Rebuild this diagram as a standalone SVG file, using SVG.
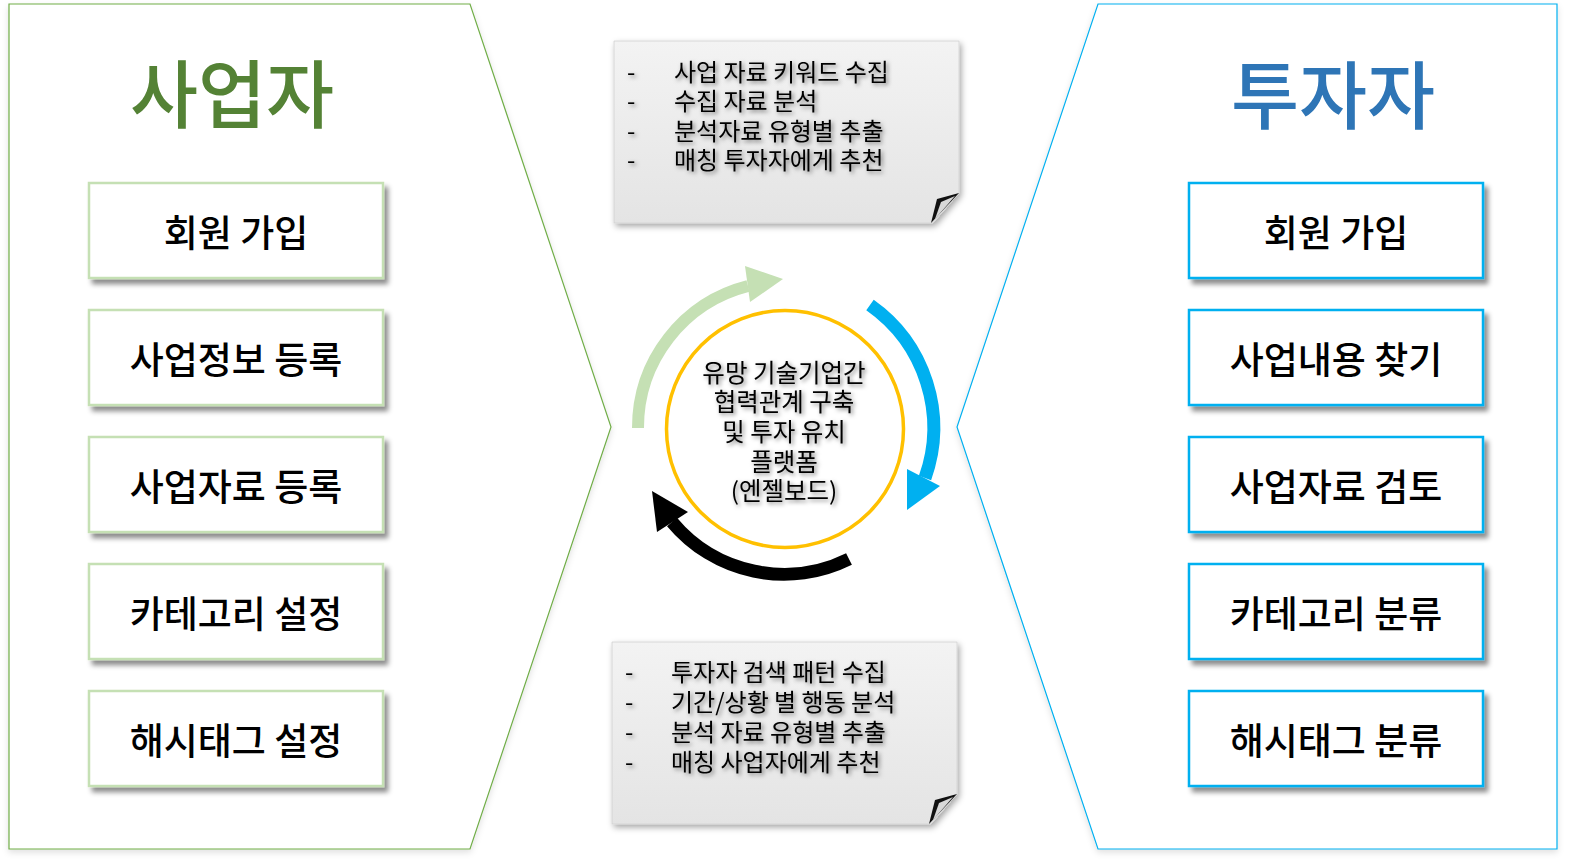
<svg xmlns="http://www.w3.org/2000/svg" width="1572" height="867" viewBox="0 0 1572 867">
<defs>
<filter id="softsh" x="-5%" y="-5%" width="110%" height="110%">
<feDropShadow dx="0" dy="3" stdDeviation="3" flood-color="#000" flood-opacity="0.12"/>
</filter>
<filter id="boxsh" x="-10%" y="-10%" width="125%" height="135%">
<feDropShadow dx="4" dy="5" stdDeviation="2.5" flood-color="#000" flood-opacity="0.45"/>
</filter>
<filter id="notesh" x="-10%" y="-10%" width="125%" height="130%">
<feDropShadow dx="2" dy="3" stdDeviation="3" flood-color="#000" flood-opacity="0.35"/>
</filter>
<filter id="txtsh" x="-10%" y="-30%" width="125%" height="170%">
<feDropShadow dx="2" dy="2" stdDeviation="2.2" flood-color="#000" flood-opacity="0.5"/>
</filter>
<linearGradient id="notegrad" x1="0" y1="0" x2="0" y2="1">
<stop offset="0" stop-color="#F3F3F3"/>
<stop offset="1" stop-color="#E4E4E4"/>
</linearGradient>
<style>
.pl{fill:#fff;stroke:#70AD47;stroke-width:1.2}
.pr{fill:#fff;stroke:#00B0F0;stroke-width:1.2}
.bl{fill:#fff;stroke:#C5E0B4;stroke-width:2.5}
.br{fill:#fff;stroke:#00B0F0;stroke-width:2.5}
.t{font-family:"Noto Sans CJK KR","Noto Sans",sans-serif;dominant-baseline:central}
.bt{font-size:37px;font-weight:500;fill:#000;text-anchor:middle}
.title{font-size:74px;font-weight:500;text-anchor:middle}
.nt{font-size:24px;fill:#000}
.ct{font-size:24.5px;fill:#000;text-anchor:middle}
.note{fill:url(#notegrad);stroke:#D0D0D0;stroke-width:0.8}
</style>
</defs>
<rect x="0" y="0" width="1572" height="867" fill="#fff"/>

<g id="left-panel" filter="url(#softsh)">
<polygon class="pl" points="9,4 470,4 611,427 470,849 9,849"/>
</g>
<g id="right-panel" filter="url(#softsh)">
<polygon class="pr" points="1098,4 1557,4 1557,849 1098,849 957,427"/>
</g>

<g id="title-business"><text class="t title" x="232" y="89" fill="#548235">사업자</text></g>
<g id="title-investor"><text class="t title" x="1333" y="90" fill="#2E75B6">투자자</text></g>

<g id="l1"><rect class="bl" x="89" y="183" width="294" height="95" filter="url(#boxsh)"/><text class="t bt" x="236" y="231">회원 가입</text></g>
<g id="l2"><rect class="bl" x="89" y="310" width="294" height="95" filter="url(#boxsh)"/><text class="t bt" x="236" y="358">사업정보 등록</text></g>
<g id="l3"><rect class="bl" x="89" y="437" width="294" height="95" filter="url(#boxsh)"/><text class="t bt" x="236" y="485">사업자료 등록</text></g>
<g id="l4"><rect class="bl" x="89" y="564" width="294" height="95" filter="url(#boxsh)"/><text class="t bt" x="236" y="612">카테고리 설정</text></g>
<g id="l5"><rect class="bl" x="89" y="691" width="294" height="95" filter="url(#boxsh)"/><text class="t bt" x="236" y="739">해시태그 설정</text></g>

<g id="r1"><rect class="br" x="1189" y="183" width="294" height="95" filter="url(#boxsh)"/><text class="t bt" x="1336" y="231">회원 가입</text></g>
<g id="r2"><rect class="br" x="1189" y="310" width="294" height="95" filter="url(#boxsh)"/><text class="t bt" x="1336" y="358">사업내용 찾기</text></g>
<g id="r3"><rect class="br" x="1189" y="437" width="294" height="95" filter="url(#boxsh)"/><text class="t bt" x="1336" y="485">사업자료 검토</text></g>
<g id="r4"><rect class="br" x="1189" y="564" width="294" height="95" filter="url(#boxsh)"/><text class="t bt" x="1336" y="612">카테고리 분류</text></g>
<g id="r5"><rect class="br" x="1189" y="691" width="294" height="95" filter="url(#boxsh)"/><text class="t bt" x="1336" y="739">해시태그 분류</text></g>

<g id="note-top">
<polygon class="note" points="614,41 959,41 959,193 933,223 614,223" filter="url(#notesh)"/>
<polygon points="959,193 937,199 931,223" fill="#111"/>
<polygon points="955,196 941,202 935,219" fill="#D8D8D8"/>
<g filter="url(#txtsh)">
<text class="t nt" x="627" y="70">-</text><text class="t nt" x="674" y="70">사업 자료 키워드 수집</text>
<text class="t nt" x="627" y="99">-</text><text class="t nt" x="674" y="99">수집 자료 분석</text>
<text class="t nt" x="627" y="129">-</text><text class="t nt" x="674" y="129">분석자료 유형별 추출</text>
<text class="t nt" x="627" y="158">-</text><text class="t nt" x="674" y="158">매칭 투자자에게 추천</text>
</g>
</g>

<g id="note-bottom">
<polygon class="note" points="612,642 957,642 957,794 931,824 612,824" filter="url(#notesh)"/>
<polygon points="957,794 935,800 929,824" fill="#111"/>
<polygon points="953,797 939,803 933,820" fill="#D8D8D8"/>
<g filter="url(#txtsh)">
<text class="t nt" x="625" y="670">-</text><text class="t nt" x="671" y="670">투자자 검색 패턴 수집</text>
<text class="t nt" x="625" y="700">-</text><text class="t nt" x="671" y="700">기간/상황 별 행동 분석</text>
<text class="t nt" x="625" y="730">-</text><text class="t nt" x="671" y="730">분석 자료 유형별 추출</text>
<text class="t nt" x="625" y="760">-</text><text class="t nt" x="671" y="760">매칭 사업자에게 추천</text>
</g>
</g>

<g id="connectors">
<path d="M638,428 A146,146 0 0 1 748,286" fill="none" stroke="#C5E0B4" stroke-width="12"/>
<polygon points="745,266 783,279 750,302" fill="#C5E0B4"/>
<path d="M870,305 A150,150 0 0 1 925,478" fill="none" stroke="#00B0F0" stroke-width="13"/>
<polygon points="907,469 940,486 907,510" fill="#00B0F0"/>
<path d="M849,559 A146,146 0 0 1 672,522" fill="none" stroke="#000" stroke-width="13"/>
<polygon points="657,532 688,512 652,491" fill="#000"/>
</g>

<g id="center">
<circle cx="785" cy="429" r="118.5" fill="#fff" stroke="#FFC000" stroke-width="3.5"/>
<g filter="url(#txtsh)">
<text class="t ct" x="784" y="371">유망 기술기업간</text>
<text class="t ct" x="784" y="400">협력관계 구축</text>
<text class="t ct" x="784" y="430">및 투자 유치</text>
<text class="t ct" x="784" y="460">플랫폼</text>
<text class="t ct" x="784" y="489">(엔젤보드)</text>
</g>
</g>
</svg>
